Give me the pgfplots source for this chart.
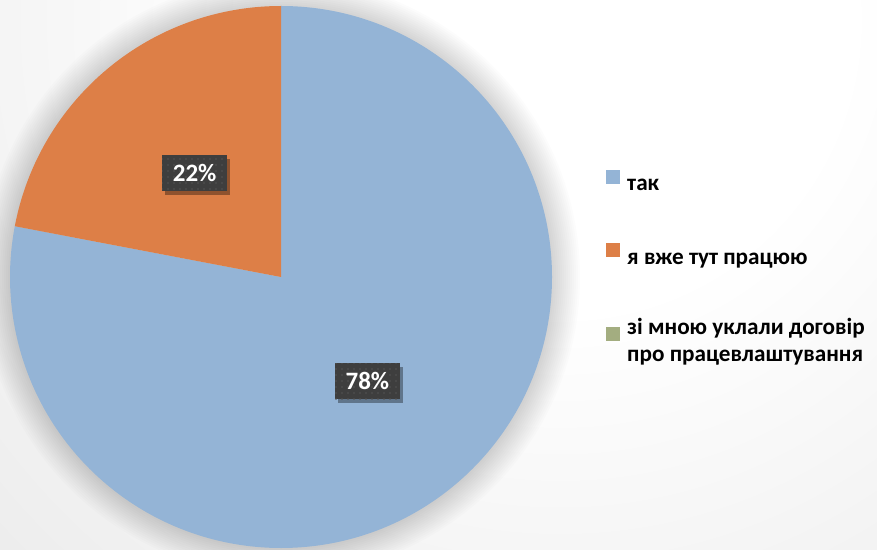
\documentclass[border=0pt]{standalone}
\usepackage{fontspec}
\setmainfont{Carlito}
\usepackage{pgfplots}
\usepackage{pgfplotstable}
\pgfplotsset{compat=1.18}
\usetikzlibrary{shadows,patterns.meta}

\definecolor{cBlue}{HTML}{94B4D6}
\definecolor{cOrange}{HTML}{DD7F47}
\definecolor{cGreen}{HTML}{A3AD80}
\definecolor{bgGray}{HTML}{C6C6C6}
\definecolor{boxGray}{HTML}{3E3E3E}
\definecolor{dotGray}{HTML}{545454}

\pgfdeclareradialshading{bgshade}{\pgfpointorigin}{color(0bp)=(white); color(8bp)=(white); color(50bp)=(bgGray)}

\tikzset{lbl/.style={fill=boxGray, text=white, font=\bfseries\fontsize{25}{30}\selectfont,
    minimum width=65pt, minimum height=36pt, inner sep=0pt,
    drop shadow={shadow xshift=3pt, shadow yshift=-4pt, opacity=0.35, fill=black},
    postaction={pattern={Dots[distance=6pt, radius=0.9pt]}, pattern color=dotGray}}}

\pgfplotstableread[col sep=comma]{
idx,value
0,78
1,22
2,0
}\piedata

\newcommand\ls{\rule[-6pt]{0pt}{21pt}}

\begin{document}
\begin{tikzpicture}
\pgfplotstablegetelem{0}{value}\of\piedata \pgfmathtruncatemacro{\vA}{\pgfplotsretval}
\pgfplotstablegetelem{1}{value}\of\piedata \pgfmathtruncatemacro{\vB}{\pgfplotsretval}
\pgfplotstablegetelem{2}{value}\of\piedata \pgfmathtruncatemacro{\vC}{\pgfplotsretval}
\pgfmathsetmacro{\aA}{90-3.6*\vA}
\pgfmathsetmacro{\aB}{\aA-3.6*\vB}
\pgfmathsetmacro{\mA}{90-1.8*\vA}
\pgfmathsetmacro{\mB}{\aA-1.8*\vB}
% background
\begin{scope}
\clip (0,0) rectangle (877pt,549pt);
\shade[shading=bgshade] (560pt,529pt) circle (900pt);
\foreach \i in {1,...,14} {
  \pgfmathsetmacro{\rr}{271+2*\i}
  \fill[black, opacity=0.011] (281pt,272pt) circle (\rr pt);
}
\end{scope}
\begin{axis}[x=1pt,y=1pt,xmin=0,xmax=877,ymin=0,ymax=549,
  hide axis, clip=false,
  legend style={at={(axis description cs:0.6910,0.6903)}, anchor=north west,
    draw=none, fill=none, inner sep=0pt, row sep=49pt, column sep=5pt,
    font=\bfseries\fontsize{23.2}{27}\selectfont,
    cells={align=left, inner sep=0pt}},
  legend cell align=left,
  legend image code/.code={\fill[draw=none] (0pt,0pt) rectangle (14pt,14pt);},
]
% slices from the data
\fill[cBlue] (axis cs:281,272) -- ++(90:271pt) arc[start angle=90, end angle=\aA, radius=271pt] -- cycle;
\fill[cOrange] (axis cs:281,272) -- ++(\aA:271pt) arc[start angle=\aA, end angle=\aB, radius=271pt] -- cycle;
% data labels
\path (axis cs:281,272) ++(\mA:135.5pt) node[lbl] {\vA\%};
\path (axis cs:281,272) ++(\mB:135.5pt) node[lbl] {\vB\%};
\addlegendimage{fill=cBlue, draw=none}
\addlegendentry{\ls так}
\addlegendimage{fill=cOrange, draw=none}
\addlegendentry{\ls я вже тут працюю}
\addlegendimage{fill=cGreen, draw=none}
\addlegendentry{\ls зі мною уклали договір\\\ls про працевлаштування}
\end{axis}
\end{tikzpicture}
\end{document}
